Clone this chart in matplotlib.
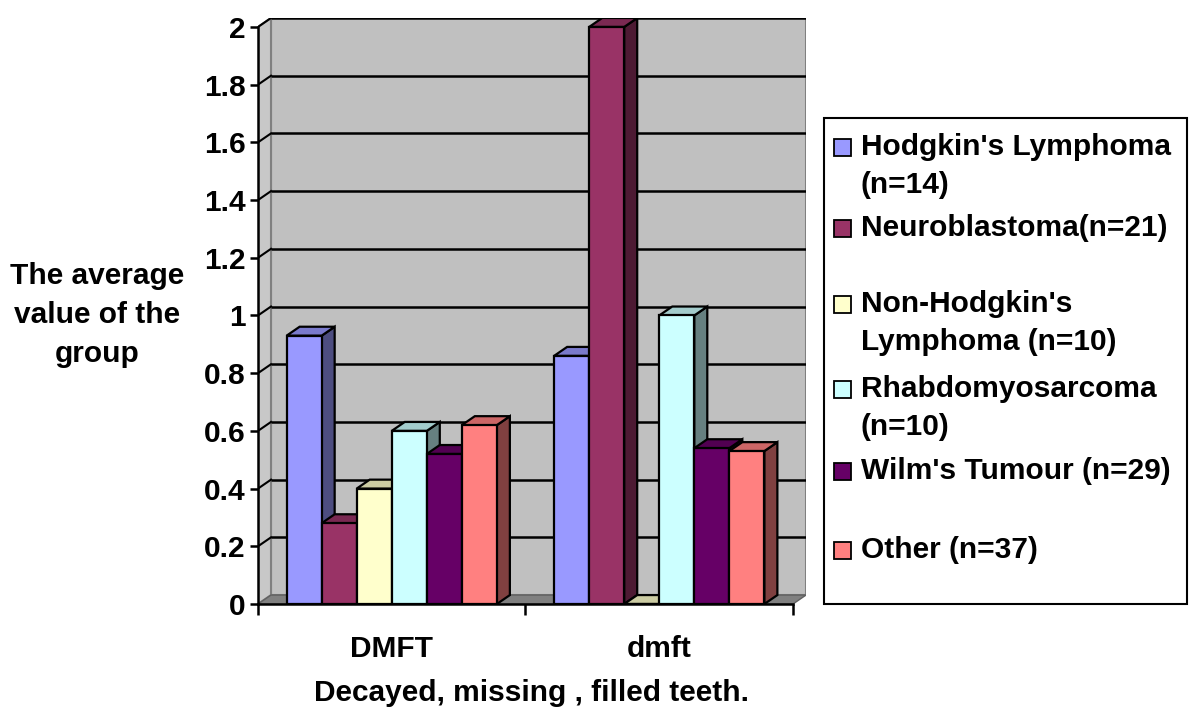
import matplotlib
matplotlib.use("Agg")
import matplotlib.pyplot as plt
from matplotlib.patches import Polygon, Rectangle
import numpy as np

plt.rcParams['font.family'] = ['Liberation Sans', 'DejaVu Sans']
plt.rcParams['font.weight'] = 'bold'

categories = ['DMFT', 'dmft']
series = ["Hodgkin's Lymphoma\n(n=14)", "Neuroblastoma(n=21)",
          "Non-Hodgkin's\nLymphoma (n=10)", "Rhabdomyosarcoma\n(n=10)",
          "Wilm's Tumour (n=29)", "Other (n=37)"]
hodgkin = [0.93, 0.86]
neuro = [0.28, 2.0]
non_hodgkin = [0.40, 0.0]
rhabdo = [0.60, 1.0]
wilms = [0.52, 0.54]
other = [0.62, 0.53]
values = [hodgkin, neuro, non_hodgkin, rhabdo, wilms, other]
colors = ['#9999FF', '#993366', '#FFFFCC', '#CCFFFF', '#660066', '#FF8080']
yticks = [0, 0.2, 0.4, 0.6, 0.8, 1, 1.2, 1.4, 1.6, 1.8, 2]

FS = 21.5
W, H = 1189, 707
fig = plt.figure(figsize=(W / 100, H / 100), dpi=100)

# depth of the 3-d look, in data units
dx = 0.0486
dy = 0.031
ymax = 2.0

ax = fig.add_axes([258 / W, (H - 604) / H, 548 / W, 586 / H])
ax.set_xlim(-0.5, 1.5 + dx)
ax.set_ylim(0, ymax + dy)
ax.patch.set_alpha(0)

# walls and floor
ax.add_patch(Rectangle((-0.5 + dx, dy), 2.0, ymax, facecolor='#C0C0C0',
                       edgecolor='#808080', lw=1.5, zorder=0))
ax.add_patch(Polygon([(-0.5, 0), (-0.5 + dx, dy), (-0.5 + dx, ymax + dy), (-0.5, ymax)],
                     facecolor='#C8C8C8', edgecolor='#808080', lw=1.5, zorder=0))
ax.add_patch(Polygon([(-0.5, 0), (1.5, 0), (1.5 + dx, dy), (-0.5 + dx, dy)],
                     facecolor='#808080', edgecolor='#606060', lw=1, zorder=0))

# gridlines on the back wall and left wall
for t in yticks[1:]:
    ax.plot([-0.5 + dx, 1.5 + dx], [t + dy, t + dy], color='black', lw=1.8, zorder=1,
            solid_capstyle='butt')
    ax.plot([-0.5, -0.5 + dx], [t, t + dy], color='black', lw=1.5, zorder=1)


def shade(c, f):
    rgb = np.array(matplotlib.colors.to_rgb(c))
    return tuple(rgb * f)


bw = 0.131
x = np.arange(len(categories))
for gi in range(len(categories)):
    for si, (vals, c) in enumerate(zip(values, colors)):
        x0 = x[gi] - 3 * bw + si * bw
        v = vals[gi]
        side = Polygon([(x0 + bw, 0), (x0 + bw + dx, dy), (x0 + bw + dx, v + dy), (x0 + bw, v)],
                       facecolor=shade(c, 0.5), edgecolor='black', lw=1.6, zorder=3 + si)
        top = Polygon([(x0, v), (x0 + bw, v), (x0 + bw + dx, v + dy), (x0 + dx, v + dy)],
                      facecolor=shade(c, 0.8), edgecolor='black', lw=1.6, zorder=3 + si)
        ax.add_patch(side)
        ax.add_patch(top)
        ax.bar(x0, v, width=bw, align='edge', color=c, edgecolor='black', lw=1.6,
               zorder=3 + si)

# axes
for s in ['top', 'right']:
    ax.spines[s].set_visible(False)
ax.spines['left'].set_bounds(0, ymax)
ax.spines['bottom'].set_bounds(-0.5, 1.5)
ax.spines['left'].set_linewidth(1.8)
ax.spines['bottom'].set_linewidth(1.8)
ax.spines['left'].set_zorder(10)
ax.spines['bottom'].set_zorder(10)
ax.set_yticks(yticks)
ax.set_yticklabels([f'{t:g}' for t in yticks], fontsize=FS, fontweight='bold')
ax.tick_params(axis='y', direction='out', length=6, width=1.8, pad=3)
ax.set_xticks([-0.5, 0.5, 1.5])
ax.set_xticklabels([])
ax.tick_params(axis='x', which='major', direction='out', length=8, width=1.8)
ax.set_xticks(x, minor=True)
ax.set_xticklabels(categories, minor=True, fontsize=FS, fontweight='bold')
ax.tick_params(axis='x', which='minor', length=0, pad=22)
ax.set_xlabel('Decayed, missing , filled teeth.', fontsize=FS, fontweight='bold', labelpad=12)

fig.text(97 / W, 1 - 315 / H, 'The average\nvalue of the\ngroup', ha='center', va='center',
         fontsize=FS, fontweight='bold', linespacing=1.5)

# legend
fig.patches.append(Rectangle((824 / W, 1 - 604 / H), 363 / W, 486 / H, transform=fig.transFigure,
                             facecolor='white', edgecolor='black', lw=1.5))
first_line = [147, 228, 304, 389, 471, 550]
pitch = 38
for lab, c, yl in zip(series, colors, first_line):
    fig.patches.append(Rectangle((834 / W, 1 - (yl + 9) / H), 17 / W, 17 / H,
                                 transform=fig.transFigure, facecolor=c,
                                 edgecolor='black', lw=1.3))
    for k, line in enumerate(lab.split('\n')):
        fig.text(861 / W, 1 - (yl + k * pitch) / H, line, ha='left', va='center',
                 fontsize=FS, fontweight='bold')

fig.savefig('out.png', dpi=100)
